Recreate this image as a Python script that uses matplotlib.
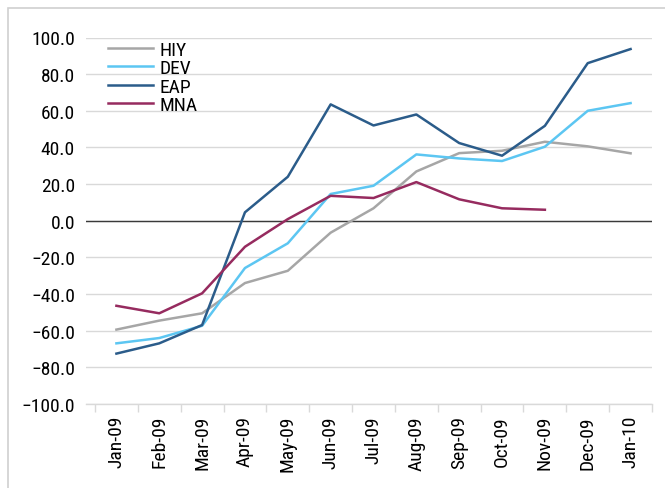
import matplotlib
matplotlib.use("Agg")
import matplotlib.pyplot as plt
import matplotlib.patches as mpatches
import numpy as np

months = ["Jan-09", "Feb-09", "Mar-09", "Apr-09", "May-09", "Jun-09", "Jul-09",
          "Aug-09", "Sep-09", "Oct-09", "Nov-09", "Dec-09", "Jan-10"]
hiy = [-59.4, -54.5, -50.5, -34.0, -27.3, -6.5, 6.8, 26.9, 36.9, 38.2, 43.1, 40.6, 36.8]
dev = [-66.9, -64.0, -57.3, -25.8, -12.3, 14.6, 19.1, 36.2, 34.0, 32.6, 40.4, 60.0, 64.2]
eap = [-72.5, -66.9, -56.9, 4.6, 24.0, 63.5, 52.0, 58.0, 42.4, 35.5, 51.8, 86.0, 93.7]
mna = [-46.4, -50.5, -39.6, -14.2, 0.9, 13.6, 12.4, 21.1, 11.7, 6.8, 6.0, np.nan, np.nan]
yticks = [-100, -80, -60, -40, -20, 0, 20, 40, 60, 80, 100]

series = [("HIY", hiy, "#A6A6A6"), ("DEV", dev, "#5CC6F2"),
          ("EAP", eap, "#2B5C8A"), ("MNA", mna, "#962B5F")]

FONT = ["Roboto Condensed", "DejaVu Sans"]
plt.rcParams['font.family'] = FONT
FS = 14

W, H = 665, 489
fig = plt.figure(figsize=(W / 100, H / 100), dpi=100)
ax = fig.add_axes([86 / W, (H - 405) / H, (652 - 86) / W, (405 - 38.5) / H])

x = np.arange(len(months))
for name, vals, col in series:
    ax.plot(x, vals, color=col, lw=1.8, label=name, zorder=3)

ax.set_ylim(-100, 100)
ax.set_xlim(-0.71, 12.5)
ax.set_yticks(yticks)
ax.set_yticklabels([f"{v:.1f}".replace("-", "\u2212") for v in yticks], fontsize=FS)
ax.yaxis.grid(True, color="#D9D9D9", lw=1)
ax.set_axisbelow(True)
ax.axhline(0, color="#3A3A3A", lw=1, zorder=2)

ax.set_xticks(x)
ax.set_xticklabels(months, rotation=90, fontsize=FS)
ax.set_xticks(np.arange(-0.5, 13, 1), minor=True)
ax.tick_params(axis="x", which="major", length=0, pad=8)
ax.tick_params(axis="x", which="minor", length=6, color="#D9D9D9", width=1)
ax.tick_params(axis="y", length=0, pad=8)

for s in ["top", "right", "left"]:
    ax.spines[s].set_visible(False)
ax.spines["bottom"].set_color("#D9D9D9")
ax.spines["bottom"].set_linewidth(1)

leg = ax.legend(loc="upper left", bbox_to_anchor=(0.026, 1.012), frameon=False,
                fontsize=FS, handlelength=2.3, handletextpad=0.3,
                labelspacing=0.02, borderaxespad=0.0)

fig.patches.append(mpatches.Rectangle((8 / W, -0.1), 1.2, (H - 9) / H + 0.1,
                                      transform=fig.transFigure, fill=False,
                                      edgecolor="#D0D0D0", lw=1.2))

fig.savefig("out.png", dpi=100)
